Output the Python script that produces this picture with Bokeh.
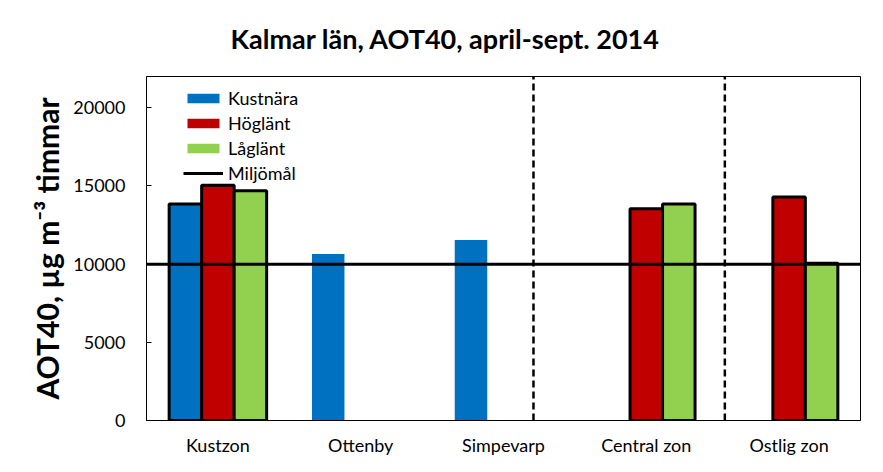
from bokeh.plotting import figure
from bokeh.models import FixedTicker, Legend, LegendItem, Range1d
from bokeh.embed import file_html
from bokeh.resources import INLINE

categories = ["Kustzon", "Ottenby", "Simpevarp", "Central zon", "Ostlig zon"]
series_names = ["Kustnära", "Höglänt", "Låglänt"]
kustnara = [13850, 10650, 11550, None, None]
hoglant = [15050, None, None, 13550, 14300]
laglant = [14700, None, None, 13850, 10050]
outlined = [True, False, False, True, True]
miljomal = 10000
y_ticks = [0, 5000, 10000, 15000, 20000]
separators = [2.71, 4.05]

colors = ["#0070C0", "#C00000", "#92D050"]
FONT = "Lato"
bar_w = 0.2276
offsets = [-bar_w, 0.0, bar_w]
y_max = 22000

p = figure(frame_width=714, frame_height=344, output_backend="svg", toolbar_location=None,
           x_range=Range1d(0, len(categories)), y_range=Range1d(0, y_max),
           min_border_left=146, min_border_right=7, min_border_top=76, min_border_bottom=36)

p.title.text = "Kalmar län, AOT40, april-sept. 2014"
p.title.align = "left"
p.title.offset = 84
p.title.vertical_align = "middle"
p.title.text_font = FONT
p.title.text_font_size = "27px"
p.title.text_font_style = "bold"
p.title.text_color = "black"
p.title.standoff = 41

p.outline_line_color = "black"
p.outline_line_width = 1
p.xgrid.visible = False
p.ygrid.visible = False
p.background_fill_color = "white"
p.border_fill_color = "white"

series = [kustnara, hoglant, laglant]
for s, vals in enumerate(series):
    xo, to, xp, tp = [], [], [], []
    for i, v in enumerate(vals):
        if v is None:
            continue
        x = i + 0.5 + offsets[s]
        if outlined[i]:
            xo.append(x); to.append(v)
        else:
            xp.append(x); tp.append(v)
    if xp:
        p.vbar(x=xp, top=tp, width=bar_w, bottom=0, fill_color=colors[s], line_color=None)
    if xo:
        p.vbar(x=xo, top=to, width=bar_w, bottom=0, fill_color=colors[s],
               line_color="black", line_width=3)

# target line
p.line(x=[0, len(categories)], y=[miljomal, miljomal], line_color="black", line_width=3)

# dashed separators
for sx in separators:
    p.line(x=[sx, sx], y=[0, y_max], line_color="black", line_width=2.5, line_dash="7 4")

# legend with off-range dummy renderers (no outline on legend patches)
items = []
for s, name in enumerate(series_names):
    r = p.vbar(x=[-10], top=[0], width=bar_w, fill_color=colors[s], line_color=None)
    items.append(LegendItem(label=name, renderers=[r]))
rl = p.line(x=[-10, -9], y=[0, 0], line_color="black", line_width=3)
items.append(LegendItem(label="Miljömål", renderers=[rl]))

legend = Legend(items=items, location=(37, 236), orientation="vertical",
                glyph_width=40, glyph_height=12, label_height=22, spacing=3,
                padding=0, margin=0, label_standoff=5,
                label_text_font=FONT, label_text_font_size="18px", label_text_color="black",
                border_line_color=None, background_fill_alpha=0)
p.add_layout(legend, "center")

# axes
p.xaxis.ticker = FixedTicker(ticks=[i + 0.5 for i in range(len(categories))])
p.xaxis.major_label_overrides = {i + 0.5: c for i, c in enumerate(categories)}
p.xaxis.major_tick_line_color = None
p.xaxis.major_tick_in = 0
p.xaxis.major_tick_out = 0
p.xaxis.minor_tick_line_color = None
p.xaxis.axis_line_color = "black"
p.xaxis.major_label_text_font = FONT
p.xaxis.major_label_text_font_size = "18px"
p.xaxis.major_label_text_color = "black"
p.xaxis.major_label_standoff = 13

p.yaxis.ticker = FixedTicker(ticks=y_ticks)
p.yaxis.major_tick_in = 5
p.yaxis.major_tick_out = 0
p.yaxis.major_tick_line_color = "black"
p.yaxis.minor_tick_line_color = None
p.yaxis.axis_line_color = "black"
p.yaxis.major_label_text_font = FONT
p.yaxis.major_label_text_font_size = "18px"
p.yaxis.major_label_text_color = "black"
p.yaxis.major_label_standoff = 21
p.yaxis.axis_label = "AOT40, µg m⁻³ timmar"
p.yaxis.axis_label_text_font = FONT
p.yaxis.axis_label_text_font_size = "30px"
p.yaxis.axis_label_text_font_style = "bold"
p.yaxis.axis_label_text_color = "black"
p.yaxis.axis_label_standoff = 5

open("out.html", "w").write(file_html(p, INLINE))
